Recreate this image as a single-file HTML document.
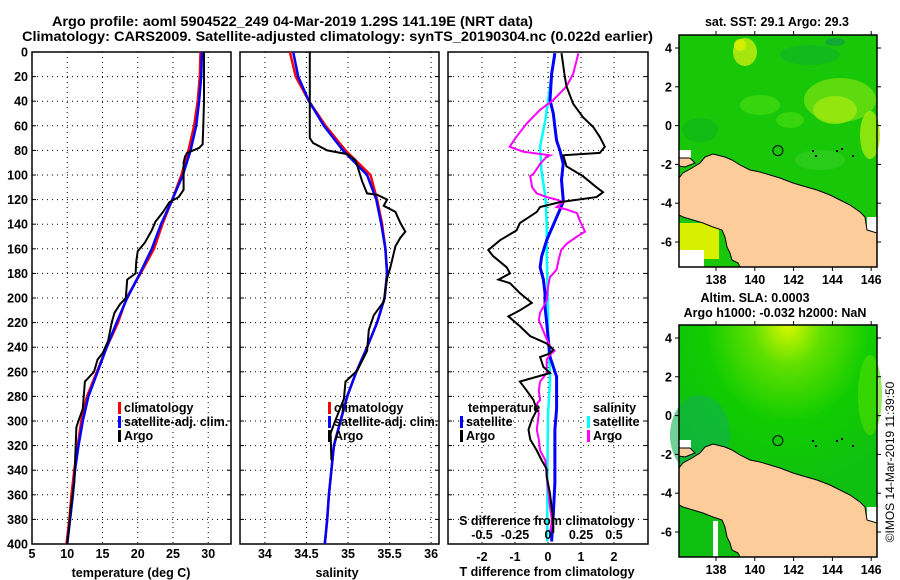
<!DOCTYPE html>
<html><head><meta charset="utf-8"><title>Argo profile</title>
<style>
html,body{margin:0;padding:0;background:#fff;}
svg{display:block;font-family:"Liberation Sans",sans-serif;font-weight:bold;}
</style></head>
<body>
<svg id="fig" width="900" height="580" viewBox="0 0 900 580" xmlns="http://www.w3.org/2000/svg">
<text x="52" y="26" font-size="13.5" textLength="481" lengthAdjust="spacingAndGlyphs">Argo profile: aoml 5904522_249 04-Mar-2019 1.29S 141.19E (NRT data)</text>
<text x="22" y="41" font-size="13.5" textLength="631" lengthAdjust="spacingAndGlyphs">Climatology: CARS2009. Satellite-adjusted climatology: synTS_20190304.nc (0.022d earlier)</text>
<g id="plots"></g>
<g id="maps"></g>
</svg>
<script>
// ---------- DATA ----------
const depthGrid = [0,20,40,60,80,100,120,140,160,180,200,220,240,260,280,300,320,340,360,380,400];
const climT = [28.9,28.8,28.5,28.0,27.2,26.2,24.9,23.5,22.3,20.4,18.4,17.2,15.6,14.2,12.8,12.0,11.5,11.0,10.6,10.3,9.9];
const satT  = [29.1,29.0,28.7,28.3,27.5,26.4,24.9,23.3,22.0,20.3,18.5,17.0,15.6,14.3,13.0,12.2,11.6,11.1,10.8,10.4,10.0];
const argoTDepth = [0,20,40,60,75,78,82,85,90,100,112,118,122,130,138,145,155,162,170,180,185,200,205,212,220,235,245,250,260,268,290,300,305,320,350,370,390,400];
const argoT      = [29.4,29.4,29.4,29.3,29.2,28.7,27.0,26.7,26.5,26.5,26.5,25.8,24.5,23.6,22.5,22.0,21.0,20.0,19.8,19.7,18.5,18.3,17.5,16.7,16.3,15.8,15.0,14.3,13.8,12.5,12.2,11.6,11.3,11.2,11.0,10.5,10.2,10.0];
const climS = [34.30,34.37,34.53,34.73,34.97,35.27,35.35,35.41,35.45,35.47,35.44,35.35,35.23,35.10,34.99,34.91,34.83,34.80,34.77,34.75,34.72];
const satS  = [34.34,34.40,34.53,34.71,34.94,35.23,35.34,35.40,35.45,35.47,35.44,35.35,35.23,35.10,34.99,34.91,34.83,34.80,34.77,34.75,34.72];
const argoSDepth = [0,70,74,80,83,88,105,115,116,120,125,130,139,146,151,158,175,184,203,214,226,243,259,268,282,299,310,332];
const argoS      = [34.54,34.54,34.58,34.75,34.99,35.09,35.17,35.23,35.35,35.47,35.43,35.57,35.63,35.69,35.63,35.57,35.51,35.47,35.43,35.31,35.25,35.23,35.11,34.97,34.95,34.85,34.79,34.80];
const dTArgoDepth = [1,20,28,42,53,61,69,77,82,84,93,101,110,114,118,122,126,130,139,145,153,161,166,175,180,185,188,196,204,210,215,223,231,237,242,245,248,256,261,268,275,283,291,299,307,315,324,332,339,345,359,370,381,391];
const dTArgo      = [0.41,0.51,0.56,0.76,1.06,1.37,1.57,1.72,1.57,0.46,0.56,1.06,1.47,1.67,1.47,0.36,-0.24,-0.34,-0.85,-0.95,-1.45,-1.81,-1.66,-1.25,-1.15,-1.5,-1.15,-0.85,-0.49,-0.85,-1.2,-0.85,-0.54,-0.04,0.16,0.06,-0.24,-0.14,0.06,-0.85,-0.65,-0.44,-0.34,-0.49,-0.59,-0.54,-0.34,-0.19,-0.04,-0.04,0.06,0.11,0.16,0.16];
const dTSatDepth = [1,18,39,50,61,72,80,91,104,120,122,153,166,175,185,196,207,220,234,248,256,264,290,307,350,376,398];
const dTSat      = [0.21,0.11,0.06,0.16,0.21,0.26,0.36,0.46,0.41,0.46,0.46,-0.04,-0.19,-0.24,-0.14,-0.09,-0.09,-0.04,0.01,0.06,0.16,0.26,0.26,0.21,0.21,0.16,0.11];
const dSArgoDepth = [1,18,28,39,47,58,69,77,81,84,85,91,99,101,110,115,118,120,122,126,128,131,137,146,150,156,161,169,177,183,191,202,212,218,223,231,239,243,246,250,261,268,275,283,286,294,307,315,324,332,345,370,381,391];
const dSArgo      = [0.23,0.19,0.14,0.04,-0.06,-0.16,-0.24,-0.29,-0.19,0.015,-0.01,-0.06,-0.11,-0.135,-0.12,-0.085,-0.01,0.065,0.115,0.065,0.14,0.22,0.24,0.28,0.22,0.14,0.10,0.08,0.065,0.015,0.0,-0.01,-0.06,-0.07,-0.05,-0.02,0.015,0.05,0.015,-0.01,-0.01,-0.06,-0.07,-0.06,-0.085,-0.07,-0.085,-0.07,-0.06,-0.02,-0.01,0.015,0.03,0.015];
const dSSatDepth = [1,28,55,77,96,118,139,166,207,231,261,268,295,349,398];
const dSSat      = [0.05,0.015,-0.02,-0.06,-0.05,-0.02,-0.01,-0.01,0.0,0.0,0.015,0.015,0.0,-0.005,-0.005];
const depthTicks = [0,20,40,60,80,100,120,140,160,180,200,220,240,260,280,300,320,340,360,380,400];
const tTicks = [5,10,15,20,25,30];
const sTicks = [34,34.5,35,35.5,36];
const dTTicks = [-2,-1,0,1,2];
const dSTicks = [-0.5,-0.25,0,0.25,0.5];
const lonTicks = [138,140,142,144,146];
const latTicks = [4,2,0,-2,-4,-6];
const floatLon = 141.19, floatLat = -1.29;

// ---------- HELPERS ----------
const NS="http://www.w3.org/2000/svg";
function mk(tag, attrs, parent){const e=document.createElementNS(NS,tag);for(const k in attrs)e.setAttribute(k,attrs[k]);parent.appendChild(e);return e;}
const plots=document.getElementById('plots');
const TOP=52, BOT=544;
const yD = d => TOP + (d/400)*(BOT-TOP);
function panel(name,x0,x1,vmin,vmax){return {name,x0,x1,x:v=>x0+(v-vmin)/(vmax-vmin)*(x1-x0)};}
const p1=panel('temperature',32,231,5,33.23);
const p2=panel('salinity',240,439,33.7,36.095);
const p3=panel('difference',448,648,-3.03,3.03);
const xS3 = s => p3.x(s*4);

function frame(p, xticks, xfn, labelY, showLabels){
  const g=mk('g',{},plots);
  
  
  // grid
  depthTicks.forEach(d=>{
    if(d===0||d===400)return;
    const l=mk('line',{x1:p.x0,x2:p.x1,y1:yD(d),y2:yD(d),stroke:'#000','stroke-width':1,'stroke-dasharray':'1,4'},g);
    
    
    mk('line',{x1:p.x0,x2:p.x0+4,y1:yD(d),y2:yD(d),stroke:'#000'},g);
    mk('line',{x1:p.x1-4,x2:p.x1,y1:yD(d),y2:yD(d),stroke:'#000'},g);
  });
  xticks.forEach(v=>{
    const X=xfn(v);
    const l=mk('line',{x1:X,x2:X,y1:TOP,y2:BOT,stroke:'#000','stroke-width':1,'stroke-dasharray':'1,4'},g);
    
    
    if(showLabels){
      const t=mk('text',{x:X,y:labelY,'font-size':12.5,'text-anchor':'middle'},g);
      t.textContent=String(v);
      
      
    }
  });
  const r=mk('rect',{x:p.x0,y:TOP,width:p.x1-p.x0,height:BOT-TOP,fill:'none',stroke:'#000','stroke-width':1.5},g);
  
  
  return g;
}
function series(g,name,depths,vals,xf,color,w){
  const pts=depths.map((d,i)=>xf(vals[i]).toFixed(1)+','+yD(d).toFixed(1)).join(' ');
  const pl=mk('polyline',{points:pts,fill:'none',stroke:color,'stroke-width':w,'stroke-linejoin':'miter'},g);
  
  
}
function legend(g,x,y,color,label,name){
  const lg=mk('g',{},g);
  
  
  mk('rect',{x:x,y:y-10,width:3,height:12,fill:color},lg);
  const t=mk('text',{x:x+6,y:y,'font-size':12.5},lg);
  t.textContent=label;
}

// y-axis labels (panel1)
depthTicks.forEach(d=>{
  const t=mk('text',{x:28,y:yD(d)+4.5,'font-size':12.5,'text-anchor':'end'},plots);
  t.textContent=String(d);
  
  
});

// Panel 1
const g1=frame(p1,tTicks,p1.x,558,true);
series(g1,'temperature-climatology-line',depthGrid,climT,p1.x,'#ff0000',2.5);
series(g1,'temperature-satellite-line',depthGrid,satT,p1.x,'#0000ff',2.5);
series(g1,'temperature-argo-line',argoTDepth,argoT,p1.x,'#000',2);
legend(g1,118,412,'#ff0000','climatology','legend-climatology');
legend(g1,118,426,'#0000ff','satellite-adj. clim.','legend-satellite');
legend(g1,118,440,'#000','Argo','legend-argo');
let t=mk('text',{x:131,y:577,'font-size':12.5,'text-anchor':'middle'},plots);t.textContent='temperature (deg C)';



// Panel 2
const g2=frame(p2,sTicks,p2.x,558,true);
series(g2,'salinity-climatology-line',depthGrid,climS,p2.x,'#ff0000',2.5);
series(g2,'salinity-satellite-line',depthGrid,satS,p2.x,'#0000ff',2.5);
series(g2,'salinity-argo-line',argoSDepth,argoS,p2.x,'#000',2);
legend(g2,328,412,'#ff0000','climatology','legend-climatology-s');
legend(g2,328,426,'#0000ff','satellite-adj. clim.','legend-satellite-s');
legend(g2,328,440,'#000','Argo','legend-argo-s');
t=mk('text',{x:337,y:577,'font-size':12.5,'text-anchor':'middle'},plots);t.textContent='salinity';



// Panel 3
const g3=frame(p3,dTTicks,p3.x,561,true);
series(g3,'s-diff-satellite-line',dSSatDepth,dSSat,xS3,'#00ffff',2.5);
series(g3,'t-diff-satellite-line',dTSatDepth,dTSat,p3.x,'#0000ff',3);
series(g3,'s-diff-argo-line',dSArgoDepth,dSArgo,xS3,'#ff00ff',2);
series(g3,'t-diff-argo-line',dTArgoDepth,dTArgo,p3.x,'#000',2);
dSTicks.forEach(v=>{
  const tt=mk('text',{x:xS3(v),y:539,'font-size':12.5,'text-anchor':'middle'},g3);
  tt.textContent=String(v);
  
  
});
t=mk('text',{x:547,y:525,'font-size':12.5,'text-anchor':'middle'},g3);t.textContent='S difference from climatology';


t=mk('text',{x:547,y:576,'font-size':12.5,'text-anchor':'middle'},plots);t.textContent='T difference from climatology';


t=mk('text',{x:468,y:412,'font-size':12.5},g3);t.textContent='temperature';


legend(g3,460,426,'#0000ff','satellite','legend-t-satellite');
legend(g3,460,440,'#000','Argo','legend-t-argo');
t=mk('text',{x:593,y:412,'font-size':12.5},g3);t.textContent='salinity';


legend(g3,587,426,'#00ffff','satellite','legend-s-satellite');
legend(g3,587,440,'#ff00ff','Argo','legend-s-argo');

// ---------- MAPS ----------
const maps=document.getElementById('maps');
const MX0=679,MX1=877;
const lonX = lon => 716 + (lon-138)*19.4;
function latY(top){return lat => top+13 + (4-lat)*19.4;}
const landPts=[[679,178],[683,173],[692,168],[700,163],[705,157],[713,154],[725,157],[732,160],[740,165],[750,170],[760,172],[770,175],[780,178],[793,183],[803,186],[817,190],[830,195],[840,200],[850,205],[860,212],[865,217],[867,230],[877,233],[877,267],[740,267],[738,263],[732,260],[730,253],[727,247],[725,237],[722,230],[713,227],[703,223],[693,220],[683,217],[679,215]];
function drawMap(top,name,kind){
  const off=top-35;
  const g=mk('g',{},maps);
  
  
  const H=232;
  const defs=mk('defs',{},g);
  if(kind==='sst'){
    mk('rect',{x:MX0,y:top,width:MX1-MX0,height:H,fill:'#18c808'},g);
    const blobs=[[745,52,12,14,'#c8ee10'],[740,45,6,6,'#e0f000'],[840,100,36,22,'#70e010'],[835,110,22,14,'#a0ea10'],[870,135,10,24,'#a8ec10'],[760,105,20,10,'#40d810'],[790,120,14,8,'#40d810'],[810,55,30,10,'#10b820'],[835,42,10,4,'#10a040'],[700,130,18,12,'#10b818'],[820,160,25,10,'#30cc20']];
    blobs.forEach(b=>mk('ellipse',{cx:b[0],cy:b[1]+off,rx:b[2],ry:b[3],fill:b[4],opacity:0.8},g));
    mk('rect',{x:679,y:223+off,width:40,height:36,fill:'#d8f000'},g);
    mk('rect',{x:679,y:250+off,width:25,height:17,fill:'#fff'},g);
  } else {
    const rg=mk('radialGradient',{id:'slaG',cx:'0.55',cy:'0',r:'0.7'},defs);
    mk('stop',{offset:'0','stop-color':'#d8f800'},rg);
    mk('stop',{offset:'0.25','stop-color':'#60e000'},rg);
    mk('stop',{offset:'0.6','stop-color':'#10cc00'},rg);
    mk('stop',{offset:'1','stop-color':'#10c010'},rg);
    mk('rect',{x:MX0,y:top,width:MX1-MX0,height:H,fill:'url(#slaG)'},g);
    mk('ellipse',{cx:700,cy:top+110,rx:30,ry:40,fill:'#10b050',opacity:0.6},g);
    mk('ellipse',{cx:870,cy:top+70,rx:12,ry:40,fill:'#50e000',opacity:0.6},g);
    mk('rect',{x:713,y:231+off,width:5,height:36,fill:'#fff'},g);
  }
  mk('rect',{x:679,y:150+off,width:12,height:9,fill:'#fff'},g);
  mk('rect',{x:867,y:217+off,width:10,height:16,fill:'#fff'},g);
  const pts=landPts.map(p=>p[0]+','+(p[1]+off)).join(' ');
  const land=mk('polygon',{points:pts,fill:'#fccc9a',stroke:'#000','stroke-width':1},g);
  
  
  mk('polygon',{points:`679,${158+off} 690,${158+off} 695,${163+off} 685,${167+off} 679,${166+off}`,fill:'#fccc9a',stroke:'#000','stroke-width':1},g);
  // small islands
  [[812,150],[836,150],[841,148],[852,155],[815,155]].forEach(p=>mk('rect',{x:p[0],y:p[1]+off,width:2,height:2,fill:'#000'},g));
  const ly=latY(top);
  const c=mk('circle',{cx:lonX(floatLon),cy:ly(floatLat),r:5,fill:'none',stroke:'#000','stroke-width':1},g);
  
  
  mk('rect',{x:MX0,y:top,width:MX1-MX0,height:H,fill:'none',stroke:'#000','stroke-width':1.5},g);
  lonTicks.forEach(v=>{
    const X=lonX(v);
    mk('line',{x1:X,x2:X,y1:top,y2:top-4,stroke:'#000'},g);
    mk('line',{x1:X,x2:X,y1:top+H,y2:top+H+4,stroke:'#000'},g);
    const tt=mk('text',{x:X,y:top+H+17,'font-size':12.5,'text-anchor':'middle'},g);
    tt.textContent=String(v);
    
    
  });
  latTicks.forEach(v=>{
    const Y=ly(v);
    mk('line',{x1:MX0-4,x2:MX0,y1:Y,y2:Y,stroke:'#000'},g);
    mk('line',{x1:MX1,x2:MX1+4,y1:Y,y2:Y,stroke:'#000'},g);
    const tt=mk('text',{x:MX0-7,y:Y+4.5,'font-size':12.5,'text-anchor':'end'},g);
    tt.textContent=String(v);
    
    
  });
}
drawMap(35,'sst-map','sst');
drawMap(325,'sla-map','sla');
t=mk('text',{x:777,y:26,'font-size':12.5,'text-anchor':'middle'},maps);t.textContent='sat. SST: 29.1 Argo: 29.3';


t=mk('text',{x:755,y:302,'font-size':12.5,'text-anchor':'middle'},maps);t.textContent='Altim. SLA: 0.0003';


t=mk('text',{x:775,y:317,'font-size':12.5,'text-anchor':'middle'},maps);t.textContent='Argo h1000: -0.032 h2000: NaN';


t=mk('text',{x:0,y:0,'font-size':12,'font-weight':'normal','text-anchor':'middle',transform:'translate(894,462) rotate(-90)'},maps);t.textContent='©IMOS 14-Mar-2019 11:39:50';


</script>
</body></html>
